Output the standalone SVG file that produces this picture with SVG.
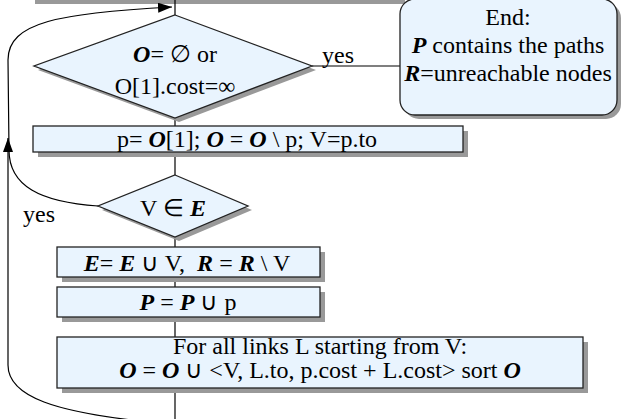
<svg xmlns="http://www.w3.org/2000/svg" width="621" height="419" viewBox="0 0 621 419">
  <defs>
    <marker id="arrow" viewBox="0 0 14 10" refX="14" refY="5" markerWidth="14" markerHeight="10" orient="auto" markerUnits="userSpaceOnUse">
      <path d="M0,0 L14,5 L0,10 z" fill="#000"/>
    </marker>
  </defs>
  <style>
    .shape { fill: #e9f4fe; stroke: #222; stroke-width: 1.3; }
    .shadow { fill: #999; }
    .line { fill: none; stroke: #000; stroke-width: 1.2; }
    text { font-family: "Liberation Serif", "Times New Roman", serif; font-size: 24px; fill: #000; }
    .mid { text-anchor: middle; }
    .v { font-weight: bold; font-style: italic; }
  </style>

  <rect width="621" height="419" fill="#fff"/>

  <!-- shadow of the step above the loop -->
  <rect class="shadow" x="35" y="-4" width="370" height="8"/>

  <g id="connectors">
    <line class="line" x1="175" y1="0" x2="175" y2="15"/>
    <line class="line" x1="175" y1="118" x2="175" y2="126"/>
    <line class="line" x1="175" y1="152" x2="175" y2="175"/>
    <line class="line" x1="175" y1="237" x2="175" y2="247"/>
    <line class="line" x1="175" y1="277" x2="175" y2="287"/>
    <line class="line" x1="175" y1="317" x2="175" y2="337"/>
    <line class="line" x1="175" y1="388" x2="175" y2="419"/>
    <line class="line" x1="312" y1="66" x2="400" y2="66"/>
    <!-- back edge from the bottom of the loop -->
    <path class="line" d="M140,421 C60,412 8,398 8,365 L8,138" marker-end="url(#arrow)"/>
    <!-- "yes" branch of V in E, returning to the loop head -->
    <path class="line" d="M98,206 C40,202 9,186 9,150 L8,60 C8,22 60,13 172,7" marker-end="url(#arrow)"/>
    <text x="322" y="63">yes</text>
    <text x="23" y="222">yes</text>
  </g>

  <g id="end">
    <rect class="shadow" x="404" y="3" width="217" height="116" rx="15"/>
    <rect class="shape" x="400" y="-1" width="217" height="116" rx="15"/>
    <text class="mid" x="508" y="25">End:</text>
    <text class="mid" x="508" y="53"><tspan class="v">P</tspan> contains the paths</text>
    <text class="mid" x="508" y="81"><tspan class="v">R</tspan>=unreachable nodes</text>
  </g>

  <g id="test-empty">
    <polygon class="shadow" points="179,19 316,70 179,122 38,70"/>
    <polygon class="shape" points="175,15 312,66 175,118 34,66"/>
    <text class="mid" x="175" y="62"><tspan class="v">O</tspan>= ∅ or</text>
    <text class="mid" x="175" y="94">O[1].cost=∞</text>
  </g>

  <g id="pop">
    <rect class="shadow" x="38" y="131" width="430" height="26"/>
    <rect class="shape" x="33" y="126" width="430" height="26"/>
    <text class="mid" x="247" y="147">p= <tspan class="v">O</tspan>[1]; <tspan class="v">O</tspan> = <tspan class="v">O</tspan> \ p; V=p.to</text>
  </g>

  <g id="test-visited">
    <polygon class="shadow" points="179,179 252,210 179,241 102,210"/>
    <polygon class="shape" points="175,175 248,206 175,237 98,206"/>
    <text class="mid" x="173" y="216">V ∈ <tspan class="v">E</tspan></text>
  </g>

  <g id="mark-visited">
    <rect class="shadow" x="62" y="252" width="263" height="30"/>
    <rect class="shape" x="57" y="247" width="263" height="30"/>
    <text class="mid" x="187" y="271"><tspan class="v">E</tspan>= <tspan class="v">E</tspan> ∪ V, &#160;<tspan class="v">R</tspan> = <tspan class="v">R</tspan> \ V</text>
  </g>

  <g id="add-path">
    <rect class="shadow" x="62" y="292" width="263" height="30"/>
    <rect class="shape" x="57" y="287" width="263" height="30"/>
    <text class="mid" x="188" y="310"><tspan class="v">P</tspan> = <tspan class="v">P</tspan> ∪ p</text>
  </g>

  <g id="expand">
    <rect class="shadow" x="62" y="342" width="526" height="51"/>
    <rect class="shape" x="57" y="337" width="526" height="51"/>
    <text class="mid" x="320" y="354">For all links L starting from V:</text>
    <text class="mid" x="320" y="378"><tspan class="v">O</tspan> = <tspan class="v">O</tspan> ∪ &lt;V, L.to, p.cost + L.cost&gt; sort <tspan class="v">O</tspan></text>
  </g>
</svg>
